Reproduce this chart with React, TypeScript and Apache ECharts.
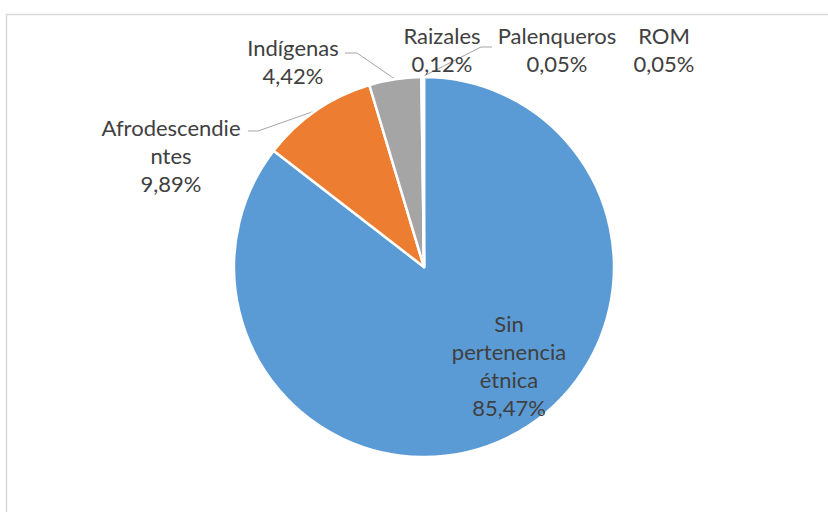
import React, { useEffect, useRef } from "react";
import * as echarts from "echarts";

const categories = ["Sin pertenencia étnica", "Afrodescendientes", "Indígenas", "Raizales", "Palenqueros", "ROM"];
const shares = [85.47, 9.89, 4.42, 0.12, 0.05, 0.05];
const wrappedNames = ["Sin\npertenencia\nétnica", "Afrodescendie\nntes", "Indígenas", "Raizales", "Palenqueros", "ROM"];
const colors = ["#5B9BD5", "#ED7D31", "#A5A5A5", "#FFC000", "#4472C4", "#70AD47"];

// label block centres (layout only)
const labelCenters: number[][] = [[509, 365], [171, 155], [293, 61], [442, 49], [557, 49], [664, 49]];
// leader line elbows (layout only): [elbow, end]
const leaderElbows: (number[][] | null)[] = [null, [[258, 131], [248, 131]], [[357, 53], [345, 53]], [[481, 47], [492, 47]], null, null];

const CX = 424, CY = 267, R = 190;

function fmt(v: number) {
  return v.toFixed(2).replace(".", ",") + "%";
}

export default function App() {
  const ref = useRef<HTMLDivElement>(null);
  useEffect(() => {
    document.body.style.margin = "0";
    const chart = echarts.init(ref.current!, null, { renderer: "svg" });
    const total = shares.reduce((a, b) => a + b, 0);
    const edgePoint = (i: number) => {
      let before = 0;
      for (let k = 0; k < i; k++) before += shares[k];
      const mid = ((before + shares[i] / 2) / total) * Math.PI * 2;
      return [CX + R * Math.sin(mid), CY - R * Math.cos(mid)];
    };
    chart.setOption({
      animation: false,
      backgroundColor: "#ffffff",
      graphic: [
        {
          type: "rect",
          shape: { x: 6.5, y: 14.5, width: 900, height: 600 },
          style: { fill: "none", stroke: "#d9d9d9", lineWidth: 1.5 },
          silent: true,
        },
      ],
      series: [
        {
          type: "pie",
          center: [CX, CY],
          radius: R,
          startAngle: 90,
          clockwise: true,
          avoidLabelOverlap: false,
          itemStyle: { borderColor: "#ffffff", borderWidth: 2.5 },
          label: {
            show: true,
            position: "outside",
            fontFamily: "Lato",
            fontSize: 22,
            lineHeight: 28,
            color: "#404040",
            align: "center",
            formatter: (p: any) => wrappedNames[p.dataIndex] + "\n" + fmt(shares[p.dataIndex]),
          },
          labelLine: { show: true, lineStyle: { color: "#A6A6A6", width: 1 } },
          labelLayout: (p: any) => {
            const i = p.dataIndex;
            const c = labelCenters[i];
            const el = leaderElbows[i];
            const out: any = { x: c[0], y: c[1], align: "center", verticalAlign: "middle" };
            if (el) out.labelLinePoints = [edgePoint(i), el[0], el[1]];
            return out;
          },
          data: categories.map((name, i) => ({
            name,
            value: shares[i],
            itemStyle: { color: colors[i] },
            labelLine: { show: leaderElbows[i] !== null },
          })),
        },
      ],
    });
    return () => chart.dispose();
  }, []);
  return <div ref={ref} style={{ width: 828, height: 512 }} />;
}
